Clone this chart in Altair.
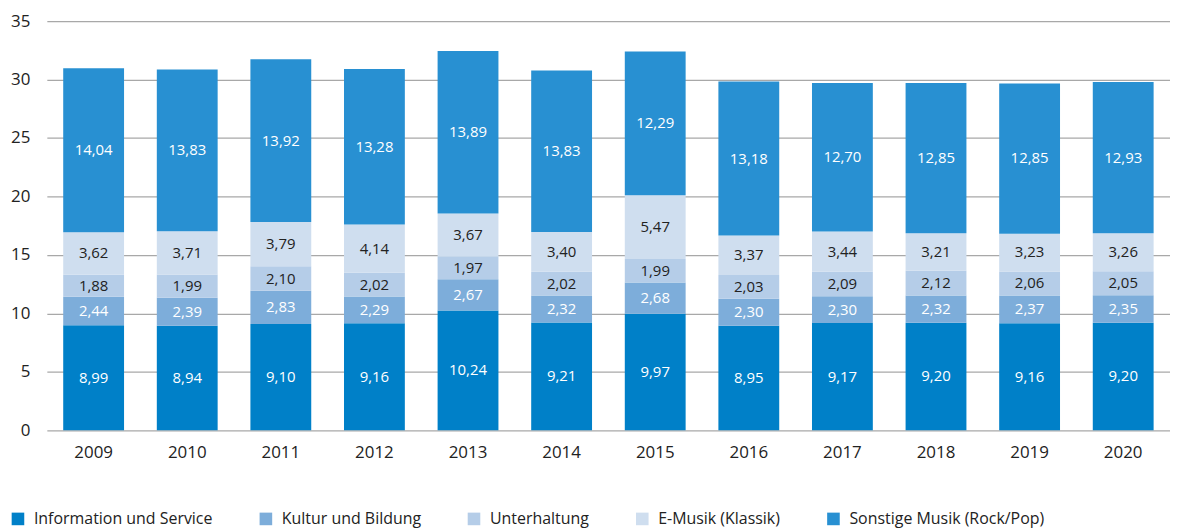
import altair as alt
import pandas as pd

years = ["2009", "2010", "2011", "2012", "2013", "2014", "2015", "2016", "2017", "2018", "2019", "2020"]
categories = ["Information und Service", "Kultur und Bildung", "Unterhaltung", "E-Musik (Klassik)", "Sonstige Musik (Rock/Pop)"]
info = [8.99, 8.94, 9.10, 9.16, 10.24, 9.21, 9.97, 8.95, 9.17, 9.20, 9.16, 9.20]
kultur = [2.44, 2.39, 2.83, 2.29, 2.67, 2.32, 2.68, 2.30, 2.30, 2.32, 2.37, 2.35]
unterhaltung = [1.88, 1.99, 2.10, 2.02, 1.97, 2.02, 1.99, 2.03, 2.09, 2.12, 2.06, 2.05]
emusik = [3.62, 3.71, 3.79, 4.14, 3.67, 3.40, 5.47, 3.37, 3.44, 3.21, 3.23, 3.26]
sonstige = [14.04, 13.83, 13.92, 13.28, 13.89, 13.83, 12.29, 13.18, 12.70, 12.85, 12.85, 12.93]
colors = ["#0080c8", "#7dadda", "#b5cde8", "#cfdeef", "#2890d2"]
text_colors = ["#ffffff", "#ffffff", "#222222", "#222222", "#ffffff"]

series = [info, kultur, unterhaltung, emusik, sonstige]
rows = []
for ci, (cat, vals) in enumerate(zip(categories, series)):
    for y, v in zip(years, vals):
        rows.append({"year": y, "category": cat, "value": v, "order": ci})
df = pd.DataFrame(rows)

FONT = "Open Sans"

base = alt.Chart(df).transform_stack(
    stack="value", groupby=["year"], as_=["v0", "v1"], sort=[alt.SortField("order", "ascending")]
).transform_calculate(
    mid="(datum.v0 + datum.v1) / 2",
    label="replace(format(datum.value, '.2f'), '.', ',')",
)

xenc = alt.X("year:N", title=None, sort=years,
             scale=alt.Scale(paddingInner=0.35, paddingOuter=0.175),
             axis=alt.Axis(domain=False, ticks=False, labelAngle=0, labelFontSize=17,
                           labelPadding=14, labelColor="#222222", labelFont=FONT))

bars = base.mark_bar().encode(
    x=xenc,
    y=alt.Y("v0:Q", title=None, scale=alt.Scale(domain=[0, 35]),
            axis=alt.Axis(values=[0, 5, 10, 15, 20, 25, 30, 35], domain=False, ticks=False,
                          grid=True, gridColor="#a8a8a8", gridWidth=1.2,
                          labelFontSize=17, labelPadding=17, labelColor="#222222", labelFont=FONT)),
    y2="v1:Q",
    color=alt.Color("category:N", sort=categories,
                    scale=alt.Scale(domain=categories, range=colors),
                    legend=alt.Legend(title=None, orient="none", direction="horizontal",
                                      legendX=-37, legendY=492, symbolType="square",
                                      symbolSize=160, symbolStrokeWidth=0, symbolOpacity=1,
                                      labelFontSize=16, labelFont=FONT, labelColor="#222222",
                                      labelOffset=8, columnPadding=45, labelLimit=400)),
)

texts = base.mark_text(fontSize=15, font=FONT, baseline="middle").encode(
    x=alt.X("year:N", sort=years),
    y=alt.Y("mid:Q"),
    text="label:N",
    color=alt.Color("category:N", scale=alt.Scale(domain=categories, range=text_colors), legend=None),
)

chart = alt.layer(bars, texts).resolve_scale(color="independent").properties(
    width=1128, height=411,
    autosize=alt.AutoSizeParams(type="none"),
    padding={"left": 39, "top": 12, "right": 0, "bottom": 98},
).configure_view(stroke=None)

chart.save("out.html", embed_options={"renderer": "svg", "actions": False})
